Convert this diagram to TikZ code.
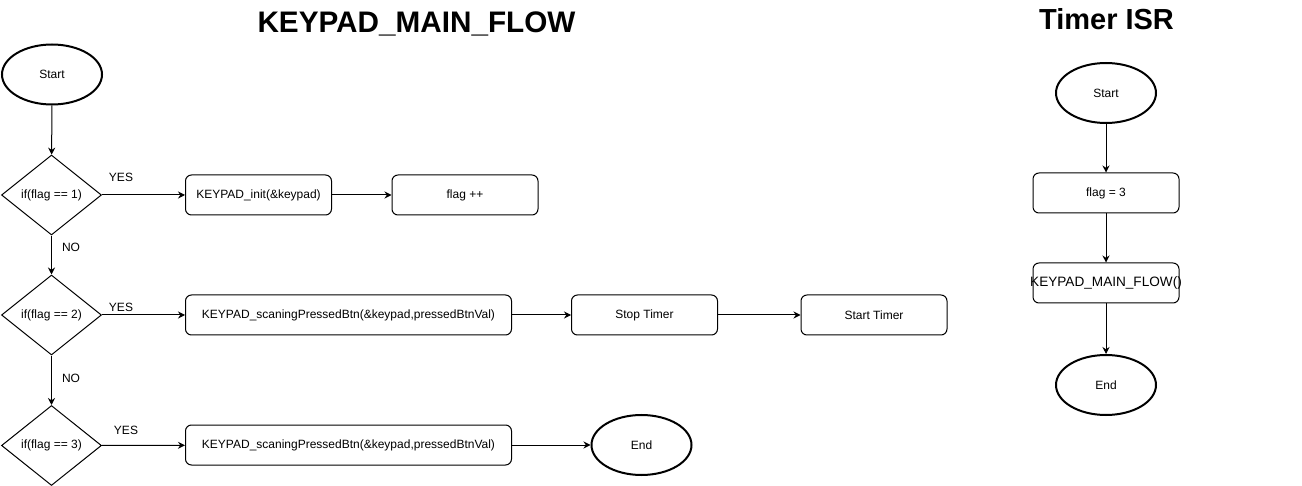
\documentclass[tikz,border=0pt]{standalone}
\usepackage{fontspec}
\setmainfont{Liberation Sans}
\usetikzlibrary{shapes.geometric,arrows.meta}
\begin{document}
\begin{tikzpicture}[x=1pt,y=-1pt,
  every node/.style={font=\fontsize{12}{14}\selectfont},
  term/.style={ellipse,draw,line width=2pt,minimum width=100pt,minimum height=60pt,inner sep=0pt},
  proc/.style={rectangle,draw,line width=1pt,rounded corners=6pt,minimum height=40pt,minimum width=146pt,inner sep=0pt},
  longproc/.style={proc,minimum width=326pt},
  dec/.style={diamond,draw,line width=1pt,minimum width=100pt,minimum height=80pt,inner sep=0pt},
  flow/.style={draw,line width=1pt,-{Stealth[length=7pt,width=7pt]}},
  lab/.style={inner sep=0pt},
  title/.style={font=\fontsize{29}{34}\selectfont\bfseries,inner sep=0pt,anchor=base}
]
\useasboundingbox (0,0) rectangle (1302,486);

% titles
\node[title,font=\fontsize{29.7}{34}\selectfont\bfseries] (t1) at (416.5,33) {KEYPAD\_MAIN\_FLOW};
\node[title] (t2) at (1106.5,29.5) {Timer ISR};

% main flow
\node[term] (start) at (52,74.5) {Start};
\node[dec] (d1) at (51.5,195) {if(flag == 1)};
\node[dec] (d2) at (51.5,315) {if(flag == 2)};
\node[dec] (d3) at (51.5,445.5) {if(flag == 3)};

\node[proc] (init) at (258.5,195) {KEYPAD\_init(\&keypad)};
\node[proc] (inc) at (465,195) {flag ++};
\node[longproc] (scan1) at (348.5,315) {KEYPAD\_scaningPressedBtn(\&keypad,pressedBtnVal)};
\node[proc] (stop) at (644.5,315) {Stop Timer};
\node[proc] (strt) at (874,315) {Start Timer};
\node[longproc] (scan2) at (348.5,445) {KEYPAD\_scaningPressedBtn(\&keypad,pressedBtnVal)};
\node[term] (end) at (641.5,445) {End};

\draw[flow] (start) -- (d1);
\draw[flow] (d1) -- (init);
\draw[flow] (init) -- (inc);
\draw[flow] (d1) -- (d2);
\draw[flow] (d2) -- (scan1);
\draw[flow] (scan1) -- (stop);
\draw[flow] (stop) -- (strt);
\draw[flow] (d2) -- (d3);
\draw[flow] (d3) -- (scan2);
\draw[flow] (scan2) -- (end);

\node[lab] (y1) at (121,177.5) {YES};
\node[lab] (n1) at (71,247.5) {NO};
\node[lab] (y2) at (121,307.5) {YES};
\node[lab] (n2) at (71,378) {NO};
\node[lab] (y3) at (126,430) {YES};

% timer ISR
\node[term] (istart) at (1106,93) {Start};
\node[proc] (set3) at (1106,193) {flag = 3};
\node[proc,font=\fontsize{13.6}{16}\selectfont] (call) at (1106,283) {\makebox[0pt]{KEYPAD\_MAIN\_FLOW()}};
\node[term] (iend) at (1106,385) {End};

\draw[flow] (istart) -- (set3);
\draw[flow] (set3) -- (call);
\draw[flow] (call) -- (iend);
\end{tikzpicture}
\end{document}
